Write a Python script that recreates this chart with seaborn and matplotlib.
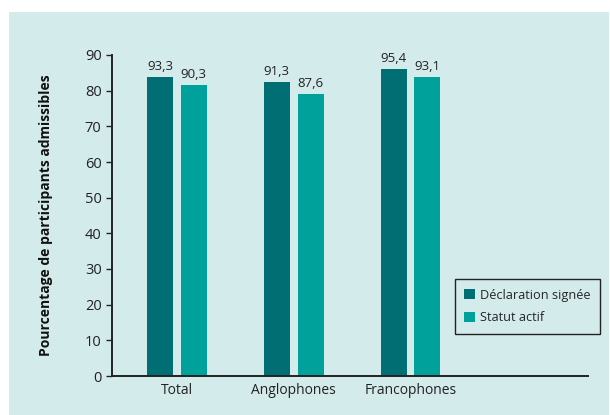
import pandas as pd
import matplotlib.pyplot as plt
import seaborn as sns
from matplotlib.patches import Rectangle

categories = ["Total", "Anglophones", "Francophones"]
series = ["Déclaration signée", "Statut actif"]
# bar heights as drawn in the picture
heights_signed = [83.8, 82.4, 86.1]
heights_active = [81.6, 79.1, 83.8]
# value labels printed above the bars
labels_signed = ["93,3", "91,3", "95,4"]
labels_active = ["90,3", "87,6", "93,1"]
yticks = [0, 10, 20, 30, 40, 50, 60, 70, 80, 90]

BG = "#d4ebeb"
DARK = "#006e73"
LIGHT = "#00a19a"

sns.set_style("ticks")
plt.rcParams['font.family'] = ['Open Sans', 'DejaVu Sans']

df = pd.DataFrame({
    "cat": categories * 2,
    "serie": [series[0]] * 3 + [series[1]] * 3,
    "val": heights_signed + heights_active,
})

fig = plt.figure(figsize=(6.1, 4.15), dpi=100)
fig.patches.append(Rectangle((9 / 610, 0), 600 / 610, 403 / 415,
                             transform=fig.transFigure, facecolor=BG,
                             edgecolor="none", zorder=-10))
ax = fig.add_axes([112 / 610, 1 - 376 / 415, 476 / 610, 321 / 415])
ax.set_facecolor("none")

sns.barplot(data=df, x="cat", y="val", hue="serie", order=categories,
            hue_order=series, palette=[DARK, LIGHT], width=0.58, gap=0.234,
            saturation=1, linewidth=0, ax=ax, legend=True)

for cont, labs in zip(ax.containers, [labels_signed, labels_active]):
    ax.bar_label(cont, labels=labs, padding=3, fontsize=9.5, color="#222222")

ax.set_xlim(-0.556, 3.52)
ax.set_ylim(0, 90)
ax.set_yticks(yticks)
ax.tick_params(axis="y", labelsize=10.5, length=4, width=1, colors="#222222")
ax.tick_params(axis="x", labelsize=10, length=0, pad=5, colors="#222222")
ax.set_xlabel("")
ax.set_ylabel("Pourcentage de participants admissibles", fontsize=10,
              fontweight="bold", labelpad=23, color="#111111")
for s in ["top", "right"]:
    ax.spines[s].set_visible(False)
for s in ["left", "bottom"]:
    ax.spines[s].set_linewidth(1.4)
    ax.spines[s].set_color("#222222")

leg = ax.legend(loc="upper left", bbox_to_anchor=(0.72, 0.302), frameon=True,
                fancybox=False, edgecolor="#222222", facecolor=BG,
                fontsize=9.2, handlelength=0.8, handleheight=0.8,
                handletextpad=0.4, borderpad=0.75, labelspacing=0.75,
                borderaxespad=0)
leg.get_frame().set_linewidth(1.0)
leg.get_frame().set_alpha(1)

fig.savefig("out.png", dpi=100)
